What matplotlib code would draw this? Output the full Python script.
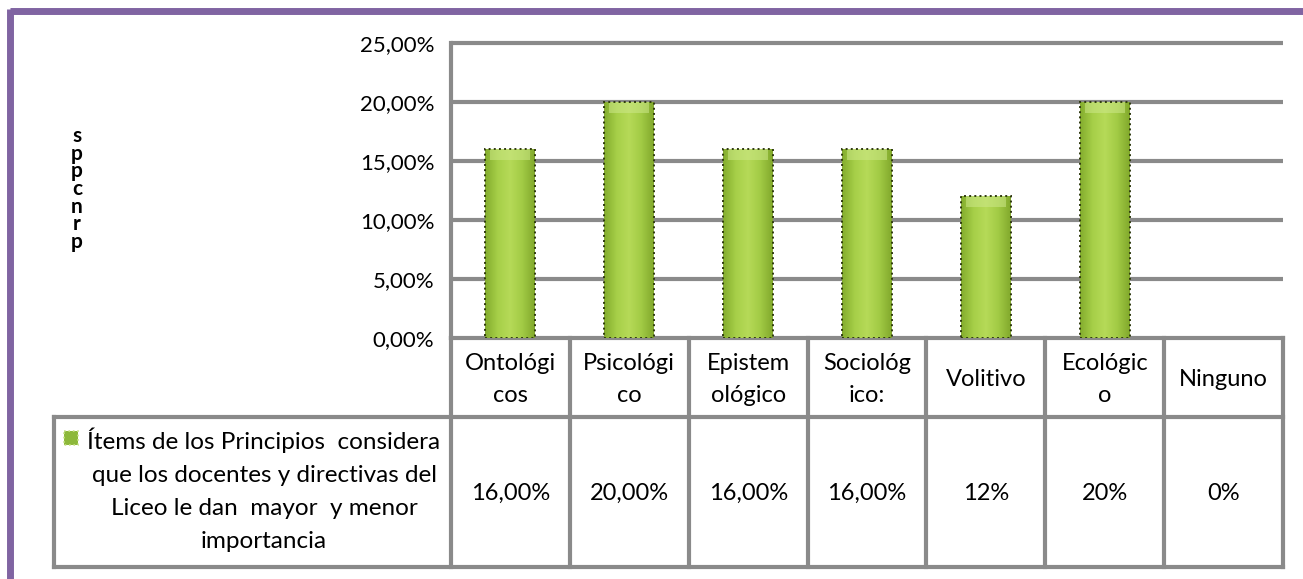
import numpy as np
import matplotlib.pyplot as plt
from matplotlib.colors import LinearSegmentedColormap

plt.rcParams['font.family'] = ['Lato', 'DejaVu Sans']

# Datos de la gráfica
categorias = ['Ontológi\ncos', 'Psicológi\nco', 'Epistem\nológico', 'Sociológ\nico:',
              'Volitivo', 'Ecológic\no', 'Ninguno']
valores = [0.16, 0.20, 0.16, 0.16, 0.12, 0.20, 0.0]
etiquetas_valor = ['16,00%', '20,00%', '16,00%', '16,00%', '12%', '20%', '0%']
yticks = [0.0, 0.05, 0.10, 0.15, 0.20, 0.25]
ytick_labels = ['0,00%', '5,00%', '10,00%', '15,00%', '20,00%', '25,00%']
serie = ('Ítems de los Principios  considera\nque los docentes y directivas del\n'
         'Liceo le dan  mayor  y menor\nimportancia')

W, H = 1303, 579
fig = plt.figure(figsize=(W / 100, H / 100), dpi=100)

# capa en pixeles para la tabla y el marco
ov = fig.add_axes([0, 0, 1, 1])
ov.set_xlim(0, W)
ov.set_ylim(H, 0)
ov.axis('off')

# area del grafico
px0, px1, py0, py1 = 451, 1283, 43, 338
ax = fig.add_axes([px0 / W, (H - py1) / H, (px1 - px0) / W, (py1 - py0) / H])
n = len(categorias)
x = np.arange(n)
ax.set_xlim(-0.5, n - 0.5)
ax.set_ylim(0, 0.25)
ax.patch.set_alpha(0)
for s in ['top', 'right', 'bottom']:
    ax.spines[s].set_visible(False)
ax.spines['left'].set_color('#8a8a8a')
ax.spines['left'].set_linewidth(3)
ax.set_xticks([])
ax.set_yticks(yticks)
ax.set_yticklabels(ytick_labels, fontsize=16)
ax.tick_params(axis='y', length=0, pad=12)
ax.hlines(yticks[1:], -0.5, n - 0.5, colors='#8a8a8a', linewidth=3, clip_on=False, zorder=1)

# barras con degradado verde
verde = LinearSegmentedColormap.from_list('verde', ['#84ad2e', '#a6cf48', '#b6da58', '#a2cb45', '#82a92c'])
grad = np.tile(np.linspace(0, 1, 64), (32, 1))
barras = ax.bar(x, valores, width=0.42, color='#9cc63e', linewidth=0, zorder=3)
for b in barras:
    if b.get_height() <= 0:
        continue
    im = ax.imshow(grad, cmap=verde, aspect='auto', zorder=3.5,
                   extent=(b.get_x(), b.get_x() + b.get_width(), 0, b.get_height()))
    im.set_clip_path(b)
    # bisel superior mas claro
    ax.bar(b.get_x() + b.get_width() / 2, 0.009, width=b.get_width() * 0.8,
           bottom=b.get_height() - 0.009, color='#cde88a', alpha=0.55, linewidth=0, zorder=4)
    ax.bar(b.get_x() + b.get_width() / 2, b.get_height(), width=b.get_width(),
           fill=False, edgecolor='#2f3a10', linewidth=1.4, linestyle=':', zorder=5)

# tabla de datos
gris = '#8a8a8a'
col_w = (px1 - px0) / n
t_top, t_mid, t_bot = 338, 417, 567
t_left = 54
lw = 3
ov.plot([px0, px1], [t_top, t_top], color=gris, lw=lw)
ov.plot([t_left, px1], [t_mid, t_mid], color=gris, lw=lw)
ov.plot([t_left, px1], [t_bot, t_bot], color=gris, lw=lw)
ov.plot([t_left, t_left], [t_mid, t_bot], color=gris, lw=lw)
for i in range(n + 1):
    xe = px0 + i * col_w
    ov.plot([xe, xe], [t_top, t_bot], color=gris, lw=lw)
for i in range(n):
    xc = px0 + (i + 0.5) * col_w
    ov.text(xc, (t_top + t_mid) / 2 + 2, categorias[i], ha='center', va='center',
            fontsize=17, linespacing=1.7)
    ov.text(xc, (t_mid + t_bot) / 2 + 1, etiquetas_valor[i], ha='center', va='center',
            fontsize=17)

# leyenda de la serie
ov.add_patch(plt.Rectangle((64, 431), 14, 14, facecolor='#8db83a', edgecolor='#c9e38a',
                           linewidth=1.2, linestyle=':'))
ov.text(264, 490, serie, ha='center', va='center', fontsize=17.5, linespacing=1.7)

# titulo vertical del eje
ov.text(77, 189, 's\np\np\nc\nn\nr\np', ha='center', va='center', fontsize=15,
        fontweight='bold', linespacing=0.85)

# marco
ov.plot([10, W + 5], [11, 11], color='#8064a2', lw=5, solid_capstyle='butt')
ov.plot([10, 10], [9, H + 5], color='#8064a2', lw=5, solid_capstyle='butt')

fig.savefig('out.png', dpi=100)
